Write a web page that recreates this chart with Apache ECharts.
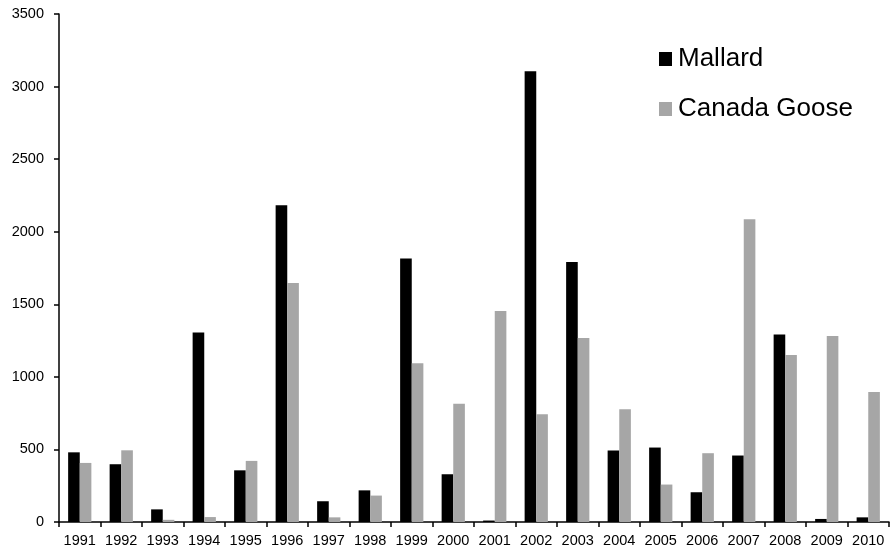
<!DOCTYPE html>
<html>
<head>
<meta charset="utf-8">
<script src="https://cdn.jsdelivr.net/npm/echarts@6/dist/echarts.min.js"></script>
<style>html,body{margin:0;padding:0;background:#fff}#c{width:892px;height:550px}</style>
</head>
<body>
<div id="c"></div>
<script>
const years = ['1991','1992','1993','1994','1995','1996','1997','1998','1999','2000','2001','2002','2003','2004','2005','2006','2007','2008','2009','2010'];
const mallard = [480, 398, 87, 1306, 356, 2182, 143, 218, 1815, 329, 10, 3105, 1792, 492, 513, 205, 458, 1292, 21, 32];
const canadaGoose = [407, 494, 15, 34, 421, 1646, 32, 182, 1094, 815, 1453, 743, 1268, 776, 258, 474, 2086, 1150, 1281, 896];

const chart = echarts.init(document.getElementById('c'), null, {renderer: 'canvas'});
const font = 'Liberation Sans, Arial, sans-serif';
chart.setOption({
  animation: false,
  backgroundColor: '#fff',
  grid: {left: 59, right: 3, top: 14, bottom: 28, containLabel: false},
  legend: {
    orient: 'vertical',
    left: 659,
    top: 46,
    padding: 0,
    itemWidth: 13,
    itemHeight: 14,
    itemGap: 24,
    itemStyle: {borderWidth: 0},
    icon: 'rect',
    textStyle: {fontFamily: font, fontSize: 26, color: '#000', padding: [0,0,0,1]},
    data: ['Mallard', 'Canada Goose']
  },
  xAxis: {
    type: 'category',
    data: years,
    axisLine: {lineStyle: {color: '#000', width: 1.5}},
    axisTick: {show: true, length: 5, lineStyle: {color: '#000', width: 1.5}},
    axisLabel: {color: '#000', fontFamily: font, fontSize: 14.5, margin: 11, interval: 0}
  },
  yAxis: {
    type: 'value',
    min: 0, max: 3500, interval: 500,
    splitLine: {show: false},
    axisLine: {show: true, lineStyle: {color: '#000', width: 1.5}},
    axisTick: {show: true, length: 5, lineStyle: {color: '#000', width: 1.5}},
    axisLabel: {color: '#000', fontFamily: font, fontSize: 14.5, margin: 15, formatter: function (v) { return String(v); }}
  },
  series: [
    {name: 'Mallard', type: 'bar', data: mallard, itemStyle: {color: '#000000'}, barGap: '0%', barCategoryGap: '44%'},
    {name: 'Canada Goose', type: 'bar', data: canadaGoose, itemStyle: {color: '#a6a6a6'}, barGap: '0%', barCategoryGap: '44%'}
  ]
});
</script>
</body>
</html>
